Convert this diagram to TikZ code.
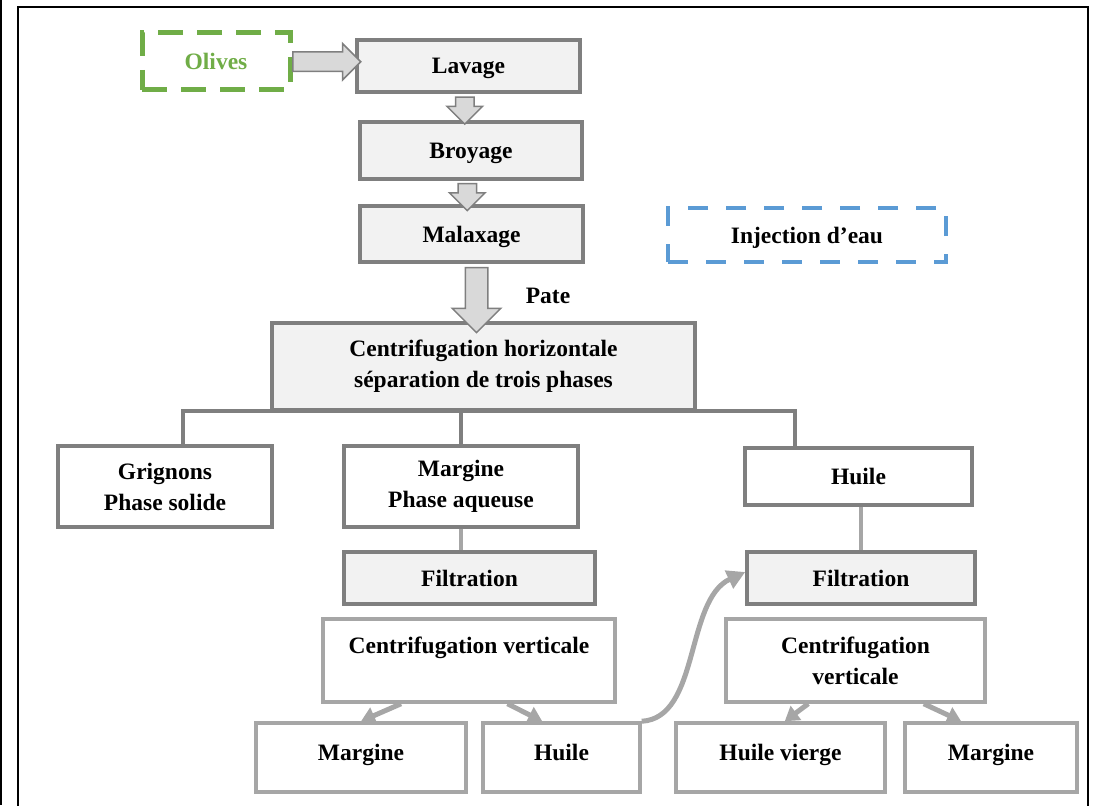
\documentclass[tikz,border=0pt]{standalone}
\usepackage{fontspec}
\setmainfont{Liberation Serif}
\usetikzlibrary{arrows.meta,calc,shapes.arrows}
\definecolor{BoxClr}{HTML}{7F7F7F}
\definecolor{LightClr}{HTML}{A6A6A6}
\definecolor{FillClr}{HTML}{F2F2F2}
\definecolor{ArrowFill}{HTML}{D9D9D9}
\definecolor{OliveClr}{HTML}{70AD47}
\definecolor{WaterClr}{HTML}{5B9BD5}

\tikzset{
  every node/.style={font=\fontsize{23.5}{31}\selectfont\bfseries,align=center,inner sep=0pt},
  oneline/.style={text height=16pt,text depth=0pt},
  stepbox/.style={draw=BoxClr,fill=FillClr,line width=3.5pt},
  phasebox/.style={draw=BoxClr,fill=white,line width=3.5pt},
  lightbox/.style={draw=LightClr,fill=white,line width=3.5pt},
  endbox/.style={lightbox,text height=16pt,text depth=10pt},
  blockarrow/.style={single arrow,draw=BoxClr,fill=ArrowFill,line width=1.5pt,inner xsep=0pt},
  treeline/.style={draw=BoxClr,line width=4.5pt},
  linkline/.style={draw=LightClr,line width=4.5pt},
  splitarrow/.style={draw=LightClr,line width=5pt,-{Triangle[length=14pt,width=17pt]}}
}

\begin{document}
\begin{tikzpicture}[x=1pt,y=-1pt]
\useasboundingbox (0,0) rectangle (1099,805);

% frame
\draw[line width=2pt] (1,0) -- (1,805);
\draw[line width=1.5pt] (18,815) -- (18,7) -- (1088,7) -- (1088,815);

% main line
\node[oneline,draw=OliveClr,line width=5pt,dash pattern=on 25pt off 14pt,text=OliveClr,
      minimum width=148pt,minimum height=57pt] (olives) at (216,61.5) {Olives};
\node[stepbox,oneline,minimum width=223pt,minimum height=52pt] (lavage) at (468.5,66) {Lavage};
\node[stepbox,oneline,minimum width=222pt,minimum height=57pt] (broyage) at (471,150.5) {Broyage};
\node[stepbox,oneline,minimum width=223pt,minimum height=56pt] (malaxage) at (471.5,234) {Malaxage};
\node[oneline,draw=WaterClr,line width=4pt,dash pattern=on 20pt off 18pt,
      minimum width=278pt,minimum height=54pt] (injection) at (807,235) {Injection d'eau};
\node[stepbox,minimum width=423pt,minimum height=87pt] (centH) at (483.5,366.5)
      {Centrifugation horizontale\\s\'eparation de trois phases};
\node (pate) at (548,296) {Pate};

\node[blockarrow,minimum height=68pt,inner ysep=9pt,single arrow head extend=8.5pt]
      (arrOl) at ($(olives.east)!0.5!(lavage.west)+(-2,-2)$) {};
\node[blockarrow,rotate=-90,minimum height=27pt,inner ysep=8.5pt,single arrow head extend=8.5pt]
      (arrLa) at ($(lavage.south)!0.5!(broyage.north)+(-5,-1)$) {};
\node[blockarrow,rotate=-90,minimum height=27pt,inner ysep=8.5pt,single arrow head extend=8.5pt]
      (arrBr) at ($(broyage.south)!0.5!(malaxage.north)+(-4,0)$) {};
\node[blockarrow,rotate=-90,minimum height=65pt,inner ysep=10.5pt,single arrow head extend=13pt]
      (arrMa) at ($(malaxage.south)!0.5!(centH.north)+(-1,2)$) {};

% three phases
\node[phasebox,minimum width=214pt,minimum height=81pt] (grign) at (165,486.5) {Grignons\\Phase solide};
\node[phasebox,minimum width=234pt,minimum height=81pt] (margA) at (461,486.5) {Margine\\Phase aqueuse};
\node[phasebox,oneline,minimum width=227pt,minimum height=57pt] (huile) at (858.5,476.5) {Huile};

\coordinate (barL) at (183,411);
\coordinate (barR) at (795,411);
\draw[treeline] (grign.north -| barL) -- (barL) -- (barR) -- (huile.north -| barR);
\draw[treeline] (margA.north) -- (margA.north |- barL);

% margine branch
\node[stepbox,oneline,minimum width=251pt,minimum height=52pt] (filtL) at (469.5,578) {Filtration};
\node[lightbox,minimum width=292pt,minimum height=83pt] (cvL) at (469,660.5) {Centrifugation verticale\\~};
\node[endbox,minimum width=210pt,minimum height=69pt] (margB) at (361,757.5) {Margine};
\node[endbox,minimum width=157pt,minimum height=69pt] (huileB) at (561.5,757.5) {Huile};

% huile branch
\node[stepbox,oneline,minimum width=228pt,minimum height=52pt] (filtR) at (861,578) {Filtration};
\node[lightbox,minimum width=259pt,minimum height=83pt] (cvR) at (855.5,660.5) {Centrifugation\\verticale};
\node[endbox,minimum width=209pt,minimum height=69pt] (vierge) at (780.5,757.5) {Huile vierge};
\node[endbox,minimum width=172pt,minimum height=69pt] (margC) at (991,757.5) {Margine};

\draw[linkline] (margA.south) -- (margA.south |- filtL.north);
\draw[linkline] (filtR.north |- huile.south) -- (filtR.north);

\draw[splitarrow] ($(cvL.south west)!0.27!(cvL.south east)$) -- (margB.north);
\draw[splitarrow] ($(cvL.south west)!0.63!(cvL.south east)$) -- ($(huileB.north west)!0.38!(huileB.north east)$);
\draw[splitarrow] ($(cvR.south west)!0.32!(cvR.south east)$) -- ($(vierge.north west)!0.52!(vierge.north east)$);
\draw[splitarrow] ($(cvR.south west)!0.76!(cvR.south east)$) -- ($(margC.north west)!0.33!(margC.north east)$);

\draw[draw=LightClr,line width=5pt,-{Triangle[length=18pt,width=19pt]}]
      (huileB.north east) .. controls (700,718) and (685,600) .. ([yshift=6pt]filtR.west);

\end{tikzpicture}
\end{document}
